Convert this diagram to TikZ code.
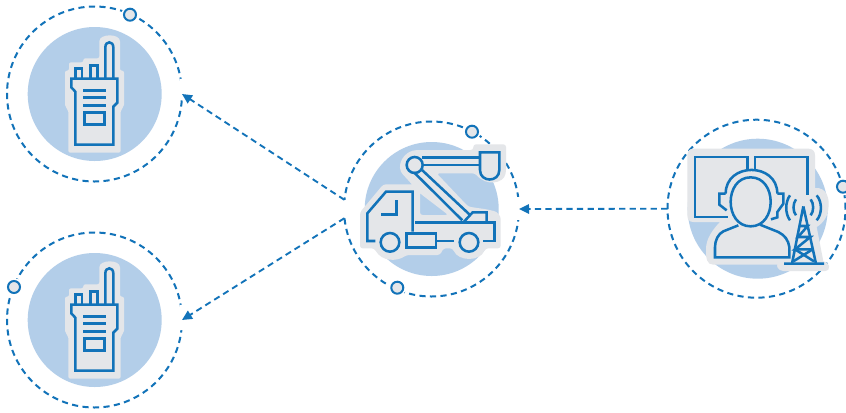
\documentclass[tikz,border=0pt]{standalone}
\usetikzlibrary{arrows.meta}
\definecolor{ink}{HTML}{1273B9}
\definecolor{discblue}{HTML}{B3CEE9}
\definecolor{halogray}{HTML}{E4E6E9}
\tikzset{
  ring/.style={circle,draw=ink,line width=1.5pt,dash pattern=on 4.6pt off 3.3pt,minimum size=175*.75pt,inner sep=0pt,outer sep=0pt},
  disc/.style={circle,fill=discblue,minimum size=134*.75pt,inner sep=0pt,outer sep=0pt},
  pin/.style={circle,draw=ink,fill=halogray,line width=1.5pt,minimum size=12*.75pt,inner sep=0pt,outer sep=0pt,preaction={draw=white,line width=4pt}},
  halo/.style={fill=halogray,draw=none},
  glyph/.style={draw=ink,line width=1.9pt,line join=miter},
  zoomed/.style={x=.25pt,y=-.25pt},
  link/.style={draw=ink,line width=1.4pt,dash pattern=on 4.7pt off 3.2pt,-{Triangle[length=7.5pt,width=7pt]}},
  gap/.style={draw=white,line width=3.5pt}
}
\newcommand{\radiodevice}[1]{%
  \begin{scope}[shift={(0,#1)},zoomed]
    \path[halo,rounded corners=1.5pt] (207,187)--(250,187)--(250,175)--(298,175)--(298,130) .. controls (298,100) and (360,100) .. (360,130)--(360,212)--(372,212)--(372,320)--(362,330)--(362,458)--(205,458)--(205,330)--(195,320)--(195,212)--(207,212)--cycle;
    \draw[glyph] (214,236)--(352,236)--(352,308)--(340,320)--(340,434)--(226,434)--(226,275)--(214,262)--cycle;
    \draw[glyph] (226,236)--(226,206)--(246,206)--(246,236);
    \draw[glyph] (272,236)--(272,196)--(292,196)--(292,236);
    \draw[glyph] (316,236)--(316,142) .. controls (316,122) and (340,122) .. (340,142)--(340,236);
    \draw[glyph] (250,271)--(318,271) (250,293)--(318,293) (250,316)--(318,316);
    \draw[glyph] (254,338) rectangle (314,374);
  \end{scope}}
\begin{document}
\begin{tikzpicture}[x=.75pt,y=-.75pt]
\useasboundingbox (0,0) rectangle (846,412);
\fill[white] (0,0) rectangle (846,412);
% discs and rings
\node[disc] (discA) at (94.7,94) {};
\node[disc] (discB) at (94.7,320) {};
\node[disc] (discT) at (431.7,209) {};
\node[disc,minimum size=140*.75pt] (discO) at (757.7,208.7) {};
\node[ring] (radioA) at (94.5,94) {};
\node[ring] (radioB) at (94.5,320) {};
\node[ring] (truck) at (431.5,209) {};
\node[ring,minimum size=178*.75pt] (operator) at (756.5,208.7) {};
% gaps where connectors meet the rings
\draw[gap] (182,79) -- (180.5,99);
\draw[gap] (182,305) -- (180.5,330);
\draw[gap] (344.5,200) -- (343.5,216);
\draw[gap] (518.5,197) -- (518.5,220);
% radios
\radiodevice{0}
\radiodevice{226}
% truck
\begin{scope}[shift={(340,115)},zoomed]
  \path[halo,rounded corners=2pt] (60,400)--(60,292)--(130,208)--(240,208)--(240,300)--(325,300)--(240,235)--(195,185) .. controls (165,155) and (190,105) .. (240,105)--(400,105)--(400,88)--(498,88)--(498,170) .. controls (490,205) and (440,215) .. (405,175)--(290,175)--(385,275)--(440,283)--(470,290)--(482,305)--(482,400)--(436,400) .. controls (420,440) and (355,440) .. (338,400)--(310,400)--(300,420)--(200,420) .. controls (170,440) and (125,440) .. (103,400)--cycle;
  \draw[glyph] (420,112)--(478,112)--(478,165) .. controls (478,203) and (420,203) .. (420,165)--cycle;
  \draw[glyph] (247,128)--(420,128) (247,150)--(420,150);
  \draw[glyph] (224,150) circle[radius=24];
  \draw[glyph] (222,172)--(367,316) (246,165)--(388,298);
  \draw[glyph] (372,320)--(398,292)--(440,292)--(440,322);
  \draw[glyph] (225,323)--(464,323)--(464,378)--(430,378);
  \draw[glyph] (106,378)--(82,378)--(82,295)--(138,230)--(218,230)--(218,350);
  \draw[glyph] (124,298)--(170,298)--(170,254);
  \draw[glyph] (150,382) circle[radius=28] (387,382) circle[radius=28];
  \draw[glyph] (200,355) rectangle (288,397);
  \draw[glyph] (288,378)--(342,378);
\end{scope}
% operator
\begin{scope}[shift={(660,112)},zoomed]
  \path[halo] (100,110)--(445,110) .. controls (458,110) and (465,118) .. (465,130)--(465,228) .. controls (500,225) and (510,260) .. (505,290) .. controls (503,320) and (480,340) .. (470,345)--(490,448) .. controls (510,450) and (515,475) .. (495,477)--(370,477) .. controls (352,475) and (350,462) .. (352,458)--(160,458) .. controls (140,458) and (138,440) .. (138,410) .. controls (138,380) and (160,350) .. (180,330)--(100,330) .. controls (88,330) and (82,322) .. (82,310)--(82,130) .. controls (82,118) and (88,110) .. (100,110)--cycle;
  \draw[glyph] (262,174)--(262,135)--(105,135)--(105,315)--(205,315);
  \draw[glyph] (285,174)--(285,135)--(442,135)--(442,250);
  \draw[glyph] (197,245) .. controls (197,150) and (352,150) .. (352,245);
  \draw[glyph] (272,196) .. controls (352,196) and (352,343) .. (272,343) .. controls (192,343) and (192,196) .. (272,196)--cycle;
  \draw[glyph] (197,245)--(178,245)--(178,278)--(200,295);
  \draw[glyph] (352,245)--(370,245)--(370,275)--(352,300)--(352,316)--(333,322);
  \draw[glyph] (235,340) -- (190,358) .. controls (175,365) and (165,385) .. (165,405)--(165,436)--(388,436)--(388,405) .. controls (385,385) and (375,370) .. (355,360)--(300,338);
  \draw[glyph] (430,283)--(396,455) (430,283)--(468,455) (372,455)--(492,455);
  \draw[glyph] (420,342)--(443,342)--(414,375)--(451,375)--(405,412)--(458,412);
  \draw[glyph] (405,412)--(462,448) (458,412)--(400,448);
  \draw[glyph] (408,262) .. controls (398,275) and (398,298) .. (408,310);
  \draw[glyph] (390,250) .. controls (375,270) and (375,305) .. (390,325);
  \draw[glyph] (452,262) .. controls (462,275) and (462,298) .. (452,310);
  \draw[glyph] (470,250) .. controls (487,270) and (487,305) .. (470,325);
\end{scope}
% pins
\node[pin] (pinA) at (130,14.7) {};
\node[pin] (pinB) at (14,287) {};
\node[pin] (pinT1) at (472,131.7) {};
\node[pin] (pinT2) at (397.3,287.7) {};
\node[pin] (pinO) at (843,186.7) {};
% connectors
\draw[link] (truck.174) -- (radioA.east);
\draw[link] (truck.186) -- (radioB.east);
\draw[link] (operator.west) -- (truck.east);
\end{tikzpicture}
\end{document}
